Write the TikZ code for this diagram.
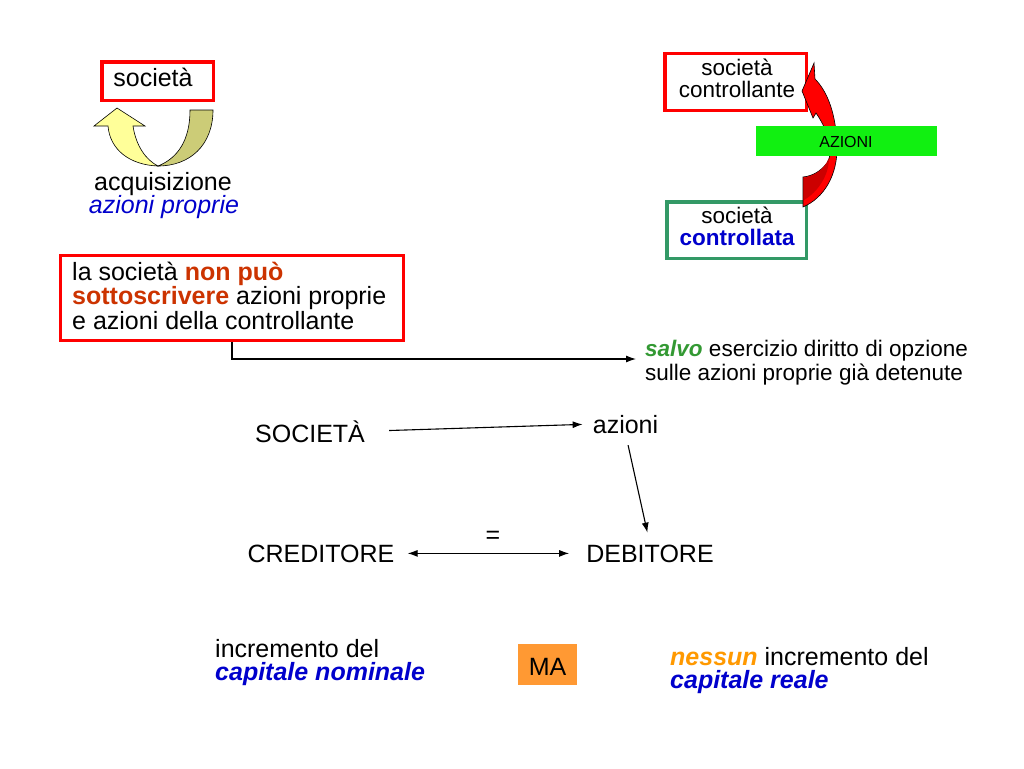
\documentclass[tikz,border=0pt]{standalone}
\usepackage{fontspec}
\setmainfont{Liberation Sans}
\usetikzlibrary{arrows.meta}
\definecolor{myred}{HTML}{FF0000}
\definecolor{mygreen}{HTML}{11F011}
\definecolor{tealb}{HTML}{339966}
\definecolor{myblue}{HTML}{0000CC}
\definecolor{rust}{HTML}{CC3300}
\definecolor{salvog}{HTML}{339933}
\definecolor{orng}{HTML}{FF9900}
\definecolor{mabox}{HTML}{FF9933}
\definecolor{ylight}{HTML}{FFFF99}
\definecolor{ydark}{HTML}{CCCC77}
\definecolor{dred}{HTML}{CC0000}
\begin{document}
\begin{tikzpicture}[x=1pt,y=-1pt,
  txt/.style={inner sep=0, font=\fontsize{25}{30}\selectfont},
  txtm/.style={inner sep=0, font=\fontsize{22.5}{27}\selectfont},
  txts/.style={inner sep=0, font=\fontsize{16}{19}\selectfont},
  frame/.style={draw, line width=3.5pt, inner sep=0, fill=white},
  conn/.style={line width=1.1pt, -{Latex[length=10pt,width=7pt]}},
  dconn/.style={line width=1.1pt, {Latex[length=10pt,width=7pt]}-{Latex[length=10pt,width=7pt]}},
  shape1/.style={draw=black, line width=0.6pt}]
\useasboundingbox[fill=white] (0,0) rectangle (1024,768);

% ---------- top left ----------
\node[frame, draw=myred, minimum width=111.5, minimum height=38.5] (soc1box) at (157.5,81) {};
\node[txt, anchor=base] (soc1) at (153,86) {società};
\filldraw[shape1, fill=ydark] (190,110) -- (213,110)
  .. controls (213,145) and (190,166) .. (158,166)
  .. controls (178,158) and (190,140) .. (190,110) -- cycle;
\filldraw[shape1, fill=ylight] (158,166)
  .. controls (130,165) and (110,150) .. (108,126)
  -- (94,126) -- (117,108) -- (145,126) -- (133,126)
  .. controls (136,146) and (146,160) .. (158,166) -- cycle;
\node[txt, anchor=base] (acq) at (163,190) {acquisizione};
\node[txt, anchor=base, text=myblue] (azp) at (164,213) {\itshape azioni proprie};

% ---------- top right ----------
\node[frame, draw=myred, minimum width=141.5, minimum height=56.5] (ctrlbox) at (735.5,82) {};
\node[txtm, anchor=base] (ctrl1) at (737,75) {società};
\node[txtm, anchor=base] (ctrl2) at (737,97) {controllante};
\node[frame, draw=tealb, minimum width=139.5, minimum height=56.5] (ctrdbox) at (736.5,230) {};
\node[txtm, anchor=base] (ctrd1) at (737,223) {società};
\node[txtm, anchor=base, text=myblue] (ctrd2) at (737,245) {\bfseries controllata};
% red curved arrow
\filldraw[shape1, fill=myred] (803,207)
  .. controls (824,198) and (838,175) .. (837,145)
  .. controls (836,115) and (828,92) .. (815,79)
  -- (814,63) -- (802,91) -- (813,118) -- (816,113)
  .. controls (829,132) and (834,152) .. (827,163)
  .. controls (820,172) and (812,176) .. (803,177) -- cycle;
\fill[dred] (804,178) .. controls (814,176) and (824,170) .. (829,158)
  .. controls (829,175) and (818,192) .. (804,200) -- cycle;
\node[fill=mygreen, minimum width=181, minimum height=30, inner sep=0] (azbox) at (846.5,141) {};
\node[txts, anchor=base] (aztxt) at (846,147) {AZIONI};

% ---------- red statement box ----------
\node[frame, draw=myred, line width=3pt, minimum width=343, minimum height=85] (rbox) at (232,298) {};
\node[txt, anchor=base west] (r1) at (72,280) {la società \textcolor{rust}{\bfseries non può}};
\node[txt, anchor=base west] (r2) at (72,304) {\textcolor{rust}{\bfseries sottoscrivere} azioni proprie};
\node[txt, anchor=base west] (r3) at (72,329) {e azioni della controllante};
\node[txtm, anchor=base west] (s1) at (645,356) {\textcolor{salvog}{\bfseries\itshape salvo} esercizio diritto di opzione};
\node[txtm, anchor=base west] (s2) at (645,380) {sulle azioni proprie già detenute};
\coordinate (salvotip) at (636,359);
\draw[conn] (rbox.south) |- (salvotip);

% ---------- middle scheme ----------
\node[txt, anchor=base] (soc) at (310,442) {SOCIETÀ};
\node[txt, anchor=base] (az) at (625.5,433) {azioni};
\node[txt, anchor=base] (cred) at (321,562) {CREDITORE};
\node[txt, anchor=base] (deb) at (650,562) {DEBITORE};
\node[txt, anchor=base] (eq) at (493,543) {=};
\draw[conn, shorten <=24pt, shorten >=10pt] (soc.east) -- (az.west);
\draw[conn, shorten <=12pt, shorten >=12pt] (az.south) -- (deb.north);
\draw[dconn, shorten <=13pt, shorten >=17pt] (cred.east) -- (deb.west);

% ---------- bottom ----------
\node[txt, anchor=base west] (inc1) at (215,657) {incremento del};
\node[txt, anchor=base west, text=myblue] (inc2) at (215,680) {\bfseries\itshape capitale nominale};
\node[fill=mabox, minimum width=59, minimum height=41, inner sep=0] (mabx) at (547.5,664.5) {};
\node[txt, anchor=base] (ma) at (547.5,675) {MA};
\node[txt, anchor=base west] (n1) at (670,665) {\textcolor{orng}{\bfseries\itshape nessun} incremento del};
\node[txt, anchor=base west, text=myblue] (n2) at (670,688) {\bfseries\itshape capitale reale};
\end{tikzpicture}
\end{document}
